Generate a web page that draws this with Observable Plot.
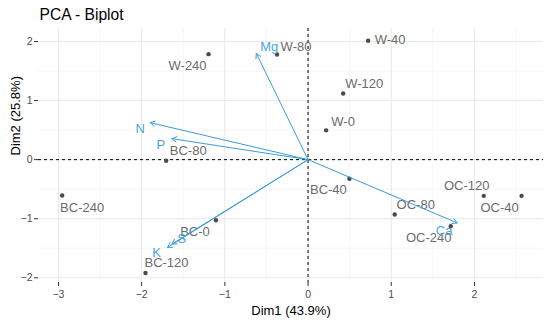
<!DOCTYPE html>
<html>
<head>
<meta charset="utf-8">
<script src="https://cdn.jsdelivr.net/npm/d3@7"></script>
<script src="https://cdn.jsdelivr.net/npm/@observablehq/plot@0.6"></script>
<style>
  body { margin: 0; background: #fff; }
  #chart svg { display: block; }
</style>
</head>
<body>
<div id="chart"></div>
<script>
// ---- Data ----
const indNames = ["W-240", "W-80", "W-40", "W-120", "W-0", "BC-80", "BC-240", "BC-0", "BC-120", "BC-40", "OC-80", "OC-240", "OC-120", "OC-40"];
const indX = [-1.196, -0.373, 0.722, 0.422, 0.217, -1.705, -2.956, -1.107, -1.954, 0.497, 1.042, 1.715, 2.112, 2.566];
const indY = [1.786, 1.781, 2.012, 1.119, 0.496, -0.02, -0.608, -1.027, -1.920, -0.324, -0.930, -1.129, -0.613, -0.613];

const varNames = ["Mg", "N", "P", "S", "K", "Ca"];
const varX = [-0.622, -1.897, -1.636, -1.636, -1.689, 1.792];
const varY = [1.798, 0.626, 0.355, -1.428, -1.486, -1.071];

const xTicks = [-3, -2, -1, 0, 1, 2];
const yTicks = [-2, -1, 0, 1, 2];
const xMinor = [-2.5, -1.5, -0.5, 0.5, 1.5, 2.5];
const yMinor = [-1.5, -0.5, 0.5, 1.5];

const titleText = "PCA - Biplot";
const xLabel = "Dim1 (43.9%)";
const yLabel = "Dim2 (25.8%)";

// ---- Layout (label nudges in pixels, like ggrepel placement) ----
const indNudge = {
  "W-240": [-21, 12], "W-80": [19, -8], "W-40": [22, -1], "W-120": [21, -10], "W-0": [17, -9],
  "BC-80": [22, -10], "BC-240": [20, 12], "BC-0": [-21, 12], "BC-120": [21, -10], "BC-40": [-21, 11],
  "OC-80": [21, -10], "OC-240": [-22, 12], "OC-120": [-17, -10], "OC-40": [-22, 12]
};
const varNudge = {
  "Mg": [13, -7], "N": [-10, 6], "P": [-11, 6], "S": [10, -5], "K": [-11, 5], "Ca": [-13, 8]
};

const inds = indNames.map((n, i) => ({name: n, x: indX[i], y: indY[i]}));
const vars = varNames.map((n, i) => ({name: n, x: varX[i], y: varY[i]}));

const font = "Liberation Sans, Arial, sans-serif";
const blue = "#3A9BD8";
const labelBlue = "#4AA5E0";
const grayText = "#6b6b6b";
const fmt = d3.format("d");

const marks = [
  Plot.ruleX(xMinor, {stroke: "#F2F2F2", strokeWidth: 0.7}),
  Plot.ruleY(yMinor, {stroke: "#F2F2F2", strokeWidth: 0.7}),
  Plot.ruleX(xTicks, {stroke: "#E8E8E8", strokeWidth: 1}),
  Plot.ruleY(yTicks, {stroke: "#E8E8E8", strokeWidth: 1}),
  Plot.ruleX([0], {stroke: "#000", strokeWidth: 1, strokeDasharray: "3,3"}),
  Plot.ruleY([0], {stroke: "#000", strokeWidth: 1, strokeDasharray: "3,3"}),
  Plot.axisX(xTicks, {tickSize: 4, tickPadding: 4, stroke: "#333", fill: "#4d4d4d", fontSize: 10.5, label: null, tickFormat: fmt}),
  Plot.axisY(yTicks, {tickSize: 4, tickPadding: 2, stroke: "#333", fill: "#4d4d4d", fontSize: 10.5, label: null, tickFormat: fmt}),
  Plot.dot(inds, {x: "x", y: "y", r: 2.2, fill: "#4a4a4a", stroke: null}),
  ...inds.map(d => Plot.text([d], {x: "x", y: "y", text: "name", dx: indNudge[d.name][0], dy: indNudge[d.name][1], fill: grayText, fontSize: 13})),
  Plot.arrow(vars, {x1: () => 0, y1: () => 0, x2: "x", y2: "y", stroke: blue, strokeWidth: 1, headLength: 8, bend: false}),
  ...vars.map(d => Plot.text([d], {x: "x", y: "y", text: "name", dx: varNudge[d.name][0], dy: varNudge[d.name][1], fill: labelBlue, fontSize: 13})),
  Plot.text([titleText], {frameAnchor: "top-left", textAnchor: "start", lineAnchor: "middle", dx: 1, dy: -14, fontSize: 15.6, fill: "#000"}),
  Plot.text([xLabel], {frameAnchor: "bottom", lineAnchor: "middle", dy: 28, fontSize: 13, fill: "#000"}),
  Plot.text([yLabel], {frameAnchor: "left", lineAnchor: "middle", rotate: -90, dx: -23, fontSize: 13, fill: "#000"})
];

const chart = Plot.plot({
  width: 550,
  height: 324,
  marginLeft: 38,
  marginRight: 7,
  marginTop: 28,
  marginBottom: 42,
  x: {domain: [-3.24, 2.83]},
  y: {domain: [-2.08, 2.22]},
  style: {fontFamily: font, background: "#fff", overflow: "visible"},
  marks
});
document.getElementById("chart").appendChild(chart);
</script>
</body>
</html>
